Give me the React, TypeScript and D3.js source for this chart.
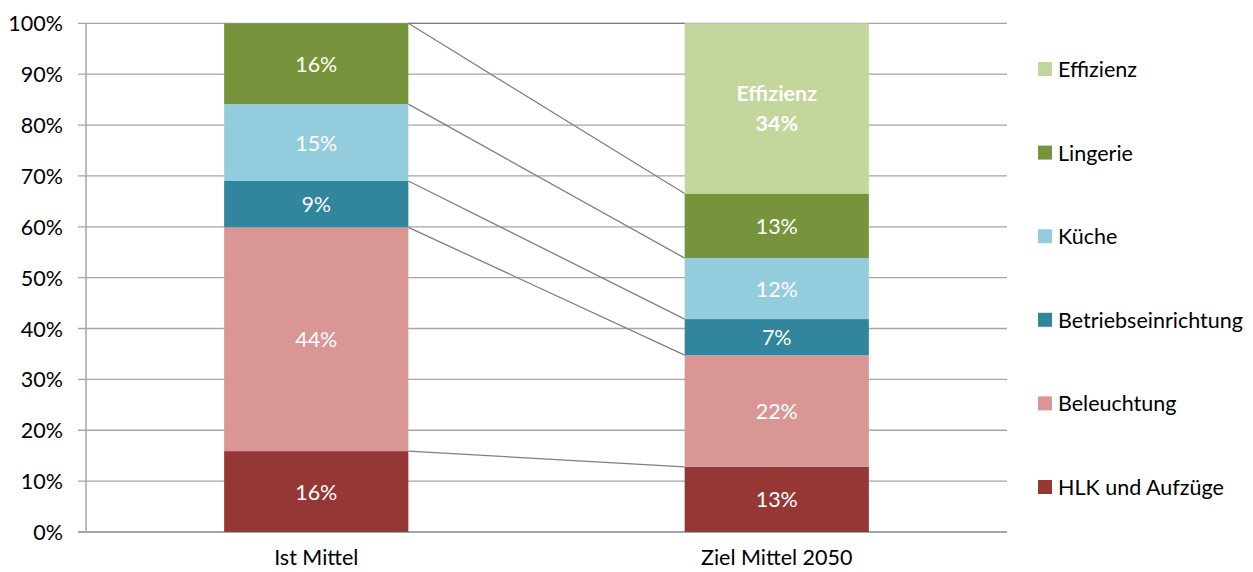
import React from "react";
import * as d3 from "d3";

const categories = ["Ist Mittel", "Ziel Mittel 2050"];
const seriesNames = ["HLK und Aufzüge", "Beleuchtung", "Betriebseinrichtung", "Küche", "Lingerie", "Effizienz"];
const hlk = [15.9, 12.8];
const beleuchtung = [44.0, 22.0];
const betrieb = [9.1, 7.1];
const kueche = [15.1, 12.0];
const lingerie = [15.9, 12.7];
const effizienz = [0, 33.5];
const colors = ["#953735", "#D99694", "#31859C", "#93CDDD", "#77933C", "#C3D69B"];
const yTicks = [0, 10, 20, 30, 40, 50, 60, 70, 80, 90, 100];

const FONT = "Lato, 'Open Sans', sans-serif";
const FS = 21.5;

export default function App() {
  const W = 1253, H = 572;
  const left = 86, right = 1007, top = 23.3, bottom = 532;
  const seriesValues = [hlk, beleuchtung, betrieb, kueche, lingerie, effizienz];
  const rows = categories.map((c, i) => {
    const r: any = { cat: c };
    seriesNames.forEach((s, j) => (r[s] = seriesValues[j][i]));
    return r;
  });
  const stack = d3.stack<any>().keys(seriesNames).offset(d3.stackOffsetExpand);
  const stacked = stack(rows);
  const x = d3.scaleBand<string>().domain(categories).range([left, right]).paddingInner(0.6).paddingOuter(0.3);
  const y = d3.scaleLinear().domain([0, 1]).range([bottom, top]);
  const yp = d3.scaleLinear().domain([0, 100]).range([bottom, top]);
  const bw = x.bandwidth();

  const legendTop = 69;
  const legendStep = 83.6;
  const legendOrder = [...seriesNames].reverse();

  return (
    <svg width={W} height={H} style={{ position: "absolute", left: 0, top: 0, background: "#fff" }} fontFamily={FONT}>
      {/* gridlines */}
      {yTicks.map((t) => (
        <line key={t} x1={left - 8} x2={right} y1={yp(t)} y2={yp(t)} stroke={t === 0 ? "#868686" : "#A6A6A6"} strokeWidth={t === 0 ? 1.5 : 1.3} />
      ))}
      {/* y axis line */}
      <line x1={left} x2={left} y1={top} y2={bottom} stroke="#A6A6A6" strokeWidth={1.5} />
      {yTicks.map((t) => (
        <text key={"l" + t} x={left - 23} y={yp(t)} textAnchor="end" dominantBaseline="central" fontSize={FS} fill="#000">
          {t + "%"}
        </text>
      ))}
      {/* series lines */}
      {stacked.map((s, j) => (
        <line key={"sl" + j} x1={(x(categories[0]) as number) + bw} y1={y(s[0][1])} x2={x(categories[1]) as number} y2={y(s[1][1])} stroke="#7F7F7F" strokeWidth={1.3} />
      ))}
      {/* bars */}
      {stacked.map((s, j) =>
        s.map((d, i) =>
          d[1] - d[0] > 0 ? (
            <rect key={`b${j}-${i}`} x={x(categories[i]) as number} width={bw} y={y(d[1])} height={y(d[0]) - y(d[1])} fill={colors[j]} />
          ) : null
        )
      )}
      {/* data labels */}
      {stacked.map((s, j) =>
        s.map((d, i) => {
          const v = seriesValues[j][i];
          if (!(d[1] - d[0] > 0)) return null;
          const cx = (x(categories[i]) as number) + bw / 2;
          const cy = (y(d[0]) + y(d[1])) / 2;
          const label = Math.round(v) + "%";
          if (seriesNames[j] === "Effizienz") {
            return (
              <text key={`t${j}-${i}`} x={cx} textAnchor="middle" fontSize={FS} fontWeight="bold" fill="#fff">
                <tspan x={cx} y={cy - 15} dominantBaseline="central">Effizienz</tspan>
                <tspan x={cx} y={cy + 15} dominantBaseline="central">{label}</tspan>
              </text>
            );
          }
          return (
            <text key={`t${j}-${i}`} x={cx} y={cy} textAnchor="middle" dominantBaseline="central" fontSize={FS} fill="#fff">
              {label}
            </text>
          );
        })
      )}
      {/* x labels */}
      {categories.map((c) => (
        <text key={c} x={(x(c) as number) + bw / 2} y={557} textAnchor="middle" dominantBaseline="central" fontSize={FS} fill="#000">
          {c}
        </text>
      ))}
      {/* legend */}
      {legendOrder.map((s, k) => {
        const j = seriesNames.indexOf(s);
        const cy = legendTop + k * legendStep;
        return (
          <g key={s}>
            <rect x={1038} y={cy - 7} width={14} height={14} fill={colors[j]} />
            <text x={1058} y={cy} dominantBaseline="central" fontSize={FS} fill="#000">
              {s}
            </text>
          </g>
        );
      })}
    </svg>
  );
}
